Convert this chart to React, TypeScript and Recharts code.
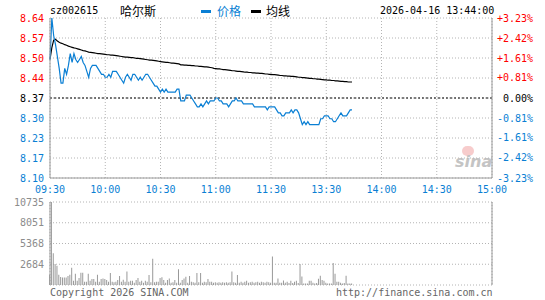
import {
  ComposedChart,
  BarChart,
  Line,
  Bar,
  XAxis,
  YAxis,
  CartesianGrid,
  ReferenceLine,
} from "recharts"

const MONO = '"DejaVu Sans Mono", "Liberation Mono", monospace'
const CJK = '"Noto Sans CJK SC", sans-serif'
const RED = "#ff0000"
const BLUE = "#0a7fd4"
const GRID = "#b4b4b4"
const BORDER = "#9a9a9a"

const PREV_CLOSE = 8.37

// minute slots: 0 = 09:30 ... 120 = 11:30/13:00 ... 240 = 15:00
const TIME_TICKS = [0, 30, 60, 90, 120, 150, 180, 210, 240]
const TIME_LABELS = ["09:30", "10:00", "10:30", "11:00", "11:30", "13:30", "14:00", "14:30", "15:00"]

const PRICE_TICKS = [8.64, 8.5725, 8.505, 8.4375, 8.37, 8.3025, 8.235, 8.1675, 8.1]
const PRICE_LABELS = ["8.64", "8.57", "8.50", "8.44", "8.37", "8.30", "8.23", "8.17", "8.10"]
const PCT_TICKS = [3.23, 2.42, 1.61, 0.81, 0, -0.81, -1.61, -2.42, -3.23]
const PCT_LABELS = ["+3.23%", "+2.42%", "+1.61%", "+0.81%", "0.00%", "-0.81%", "-1.61%", "-2.42%", "-3.23%"]
const VOL_TICKS = [2684, 5368, 8051, 10735]

const prices = [
  8.50, 8.64, 8.58, 8.55, 8.51, 8.47, 8.42, 8.42, 8.47, 8.45,
  8.48, 8.52, 8.49, 8.52, 8.50, 8.49, 8.50, 8.51, 8.49, 8.48,
  8.46, 8.44, 8.47, 8.48, 8.48, 8.48, 8.47, 8.46, 8.45, 8.45,
  8.44, 8.44, 8.45, 8.44, 8.46, 8.46, 8.46, 8.45, 8.44, 8.43,
  8.42, 8.44, 8.45, 8.44, 8.43, 8.45, 8.45, 8.44, 8.43, 8.44,
  8.43, 8.44, 8.45, 8.45, 8.44, 8.43, 8.42, 8.41, 8.41, 8.40,
  8.39, 8.40, 8.39, 8.40, 8.39, 8.39, 8.39, 8.39, 8.39, 8.40,
  8.40, 8.36, 8.36, 8.36, 8.38, 8.38, 8.38, 8.37, 8.36, 8.35,
  8.34, 8.34, 8.35, 8.34, 8.35, 8.36, 8.35, 8.36, 8.36, 8.36,
  8.37, 8.37, 8.36, 8.36, 8.35, 8.35, 8.35, 8.34, 8.35, 8.36,
  8.36, 8.37, 8.36, 8.36, 8.36, 8.35, 8.35, 8.35, 8.35, 8.35,
  8.35, 8.34, 8.34, 8.34, 8.34, 8.34, 8.34, 8.34, 8.33, 8.34,
  8.34, 8.34, 8.34, 8.33, 8.32, 8.32, 8.31, 8.31, 8.32, 8.32,
  8.32, 8.33, 8.32, 8.33, 8.33, 8.32, 8.30, 8.28, 8.29, 8.28,
  8.29, 8.28, 8.28, 8.28, 8.28, 8.28, 8.28, 8.30, 8.30, 8.31,
  8.31, 8.31, 8.30, 8.30, 8.29, 8.29, 8.30, 8.31, 8.32, 8.31,
  8.31, 8.31, 8.32, 8.33, 8.33,
]

const avgPrices = [
  8.500, 8.540, 8.565, 8.568, 8.562, 8.558, 8.555, 8.553, 8.550, 8.548,
  8.545, 8.543, 8.541, 8.539, 8.538, 8.536, 8.534, 8.532, 8.530, 8.529,
  8.527, 8.525, 8.524, 8.523, 8.522, 8.521, 8.520, 8.520, 8.519, 8.518,
  8.517, 8.516, 8.516, 8.515, 8.515, 8.514, 8.513, 8.512, 8.511, 8.510,
  8.509, 8.508, 8.508, 8.507, 8.506, 8.506, 8.505, 8.504, 8.504, 8.503,
  8.502, 8.501, 8.500, 8.499, 8.498, 8.498, 8.497, 8.496, 8.495, 8.494,
  8.493, 8.492, 8.491, 8.490, 8.490, 8.489, 8.488, 8.488, 8.487, 8.486,
  8.485, 8.482, 8.482, 8.481, 8.481, 8.480, 8.480, 8.479, 8.479, 8.478,
  8.478, 8.477, 8.477, 8.476, 8.475, 8.475, 8.474, 8.473, 8.472, 8.470,
  8.469, 8.468, 8.468, 8.467, 8.466, 8.466, 8.465, 8.464, 8.463, 8.462,
  8.462, 8.461, 8.460, 8.460, 8.459, 8.458, 8.457, 8.457, 8.456, 8.456,
  8.455, 8.455, 8.454, 8.454, 8.453, 8.453, 8.452, 8.451, 8.451, 8.450,
  8.450, 8.449, 8.449, 8.448, 8.447, 8.446, 8.446, 8.445, 8.445, 8.444,
  8.444, 8.443, 8.443, 8.442, 8.441, 8.440, 8.440, 8.439, 8.439, 8.438,
  8.437, 8.436, 8.436, 8.435, 8.435, 8.434, 8.434, 8.433, 8.432, 8.431,
  8.431, 8.430, 8.430, 8.429, 8.429, 8.428, 8.428, 8.427, 8.426, 8.426,
  8.425, 8.425, 8.424, 8.424, 8.424,
]

const volumes = [
  1320, 10735, 4100, 2730, 2480, 1320, 1030, 980, 980, 980,
  1150, 1320, 2220, 550, 1450, 550, 900, 1580, 1580, 420,
  420, 1450, 550, 770, 770, 420, 1320, 420, 770, 850,
  770, 640, 420, 1540, 420, 340, 420, 640, 1150, 420,
  680, 420, 1750, 420, 550, 550, 300, 640, 900, 420,
  550, 300, 550, 420, 1280, 340, 3380, 340, 420, 420,
  900, 1000, 640, 300, 640, 850, 300, 340, 640, 300,
  2050, 300, 640, 850, 1080, 300, 1150, 420, 340, 300,
  1540, 340, 1540, 300, 420, 340, 770, 420, 420, 300,
  340, 300, 340, 300, 340, 300, 340, 300, 340, 1750,
  340, 300, 1280, 300, 420, 300, 420, 550, 300, 340,
  420, 300, 340, 420, 300, 420, 340, 300, 420, 340,
  300, 3670, 300, 300, 850, 300, 300, 590, 300, 420,
  250, 550, 250, 420, 550, 250, 2700, 1100, 200, 200,
  200, 550, 550, 300, 200, 250, 810, 1190, 640, 550,
  300, 200, 200, 200, 2860, 1450, 420, 420, 300, 200,
  250, 1190, 200, 200, 200,
]

const priceData = prices.map((p, i) => ({ t: i, price: p, avg: avgPrices[i] }))
const volData = volumes.map((v, i) => ({ t: i, vol: v }))

const sideColor = (k: number) => (k < 4 ? RED : k === 4 ? "#000" : BLUE)

const TimeTick = (props: any) => {
  const { x, y, payload } = props
  const k = TIME_TICKS.indexOf(payload.value)
  return (
    <text x={x} y={y + 13} textAnchor="middle" fill={BLUE} fontSize={10} fontFamily={MONO}>
      {TIME_LABELS[k]}
    </text>
  )
}

const PriceTick = (props: any) => {
  const { x, y, payload } = props
  const k = PRICE_TICKS.indexOf(payload.value)
  return (
    <text x={x} y={y} dy={3.5} textAnchor="end" fill={sideColor(k)} fontSize={10} fontFamily={MONO}>
      {PRICE_LABELS[k]}
    </text>
  )
}

const PctTick = (props: any) => {
  const { x, y, payload } = props
  const k = PCT_TICKS.indexOf(payload.value)
  return (
    <text x={x + 35} y={y} dy={3.5} textAnchor="end" fill={sideColor(k)} fontSize={10} fontFamily={MONO}>
      {PCT_LABELS[k]}
    </text>
  )
}

const VolTick = (props: any) => {
  const { x, y, payload } = props
  return (
    <text x={x} y={y} dy={3.5} textAnchor="end" fill="#8c8c8c" fontSize={10} fontFamily={MONO}>
      {payload.value}
    </text>
  )
}

const txt = (extra: any) => ({
  position: "absolute" as const,
  fontSize: 10,
  fontFamily: MONO,
  lineHeight: "12px",
  whiteSpace: "nowrap" as const,
  ...extra,
})

const App = () => {
  return (
    <div style={{ position: "absolute", left: 0, top: 0, width: 545, height: 300, background: "#fff", overflow: "hidden" }}>
      {/* header */}
      <div style={txt({ left: 50, top: 5, color: "#000" })}>sz002615</div>
      <div style={txt({ left: 120, top: 4, fontFamily: CJK, fontSize: 12, lineHeight: "14px", color: "#000" })}>哈尔斯</div>
      <div style={{ position: "absolute", left: 201, top: 10, width: 10, height: 3, background: BLUE }} />
      <div style={txt({ left: 217, top: 4, fontFamily: CJK, fontSize: 12, lineHeight: "14px", color: BLUE })}>价格</div>
      <div style={{ position: "absolute", left: 251, top: 10, width: 10, height: 3, background: "#000" }} />
      <div style={txt({ left: 266, top: 4, fontFamily: CJK, fontSize: 12, lineHeight: "14px", color: "#000" })}>均线</div>
      <div style={txt({ left: 380, top: 5, color: "#000" })}>2026-04-16 13:44:00</div>

      {/* watermark */}
      <div style={{ position: "absolute", left: 462, top: 146, width: 12, height: 10, borderRadius: 6, background: "#f3b7b7", opacity: 0.7 }} />
      <div style={{ position: "absolute", left: 455, top: 152, fontFamily: '"DejaVu Sans", sans-serif', fontStyle: "italic", fontWeight: "bold", fontSize: 16, color: "#c4c4c4" }}>sina</div>

      <div style={{ position: "absolute", left: 0, top: 0 }}>
        <ComposedChart width={545} height={196} data={priceData} margin={{ top: 18, right: 0, bottom: 0, left: 0 }}>
          <CartesianGrid xAxisId="t" yAxisId="price" stroke={GRID} strokeDasharray="1 2" />
          <XAxis
            xAxisId="t"
            dataKey="t"
            type="number"
            domain={[0, 240]}
            ticks={TIME_TICKS}
            interval={0}
            height={18}
            axisLine={{ stroke: BORDER }}
            tickLine={false}
            tickSize={0}
            tick={<TimeTick />}
          />
          <XAxis
            xAxisId="top"
            orientation="top"
            dataKey="t"
            type="number"
            domain={[0, 240]}
            height={0}
            tick={false}
            tickLine={false}
            axisLine={{ stroke: BORDER }}
          />
          <YAxis
            yAxisId="price"
            domain={[8.1, 8.64]}
            allowDataOverflow
            ticks={PRICE_TICKS}
            interval={0}
            width={50}
            axisLine={{ stroke: BORDER }}
            tickLine={false}
            tickSize={4}
            tick={<PriceTick />}
          />
          <YAxis
            yAxisId="pct"
            orientation="right"
            domain={[-3.23, 3.23]}
            allowDataOverflow
            ticks={PCT_TICKS}
            interval={0}
            width={53}
            axisLine={{ stroke: BORDER }}
            tickLine={false}
            tickSize={4}
            tick={<PctTick />}
          />
          <ReferenceLine xAxisId="t" yAxisId="price" y={PREV_CLOSE} stroke="#000" strokeDasharray="2 2" />
          <Line
            xAxisId="t"
            yAxisId="price"
            type="linear"
            dataKey="avg"
            stroke="#000"
            strokeWidth={1.2}
            dot={false}
            isAnimationActive={false}
          />
          <Line
            xAxisId="t"
            yAxisId="price"
            type="linear"
            dataKey="price"
            stroke={BLUE}
            strokeWidth={1.2}
            dot={false}
            isAnimationActive={false}
          />
        </ComposedChart>
      </div>

      <div style={{ position: "absolute", left: 0, top: 196 }}>
        <BarChart width={545} height={104} data={volData} margin={{ top: 6, right: 0, bottom: 15, left: 0 }}>
          <CartesianGrid xAxisId="t" yAxisId="v" stroke={GRID} strokeDasharray="1 2" />
          <XAxis
            xAxisId="t"
            dataKey="t"
            type="number"
            domain={[0, 240]}
            ticks={TIME_TICKS}
            interval={0}
            height={0}
            tick={false}
            tickLine={false}
            axisLine={{ stroke: BORDER }}
          />
          <XAxis
            xAxisId="top"
            orientation="top"
            dataKey="t"
            type="number"
            domain={[0, 240]}
            height={0}
            tick={false}
            tickLine={false}
            axisLine={{ stroke: BORDER }}
          />
          <YAxis
            yAxisId="v"
            domain={[0, 10735]}
            allowDataOverflow
            ticks={VOL_TICKS}
            interval={0}
            width={50}
            axisLine={{ stroke: BORDER }}
            tickLine={false}
            tickSize={4}
            tick={<VolTick />}
          />
          <YAxis
            yAxisId="r"
            orientation="right"
            domain={[0, 1]}
            width={53}
            tick={false}
            tickLine={false}
            axisLine={{ stroke: BORDER }}
          />
          <Bar xAxisId="t" yAxisId="v" dataKey="vol" fill="#999" barSize={1} isAnimationActive={false} />
        </BarChart>
      </div>

      {/* footer */}
      <div style={txt({ left: 50, top: 287, color: "#666" })}>Copyright 2026 SINA.COM</div>
      <div style={txt({ left: 336, top: 287, color: "#666" })}>http://finance.sina.com.cn</div>
    </div>
  )
}

export default App
